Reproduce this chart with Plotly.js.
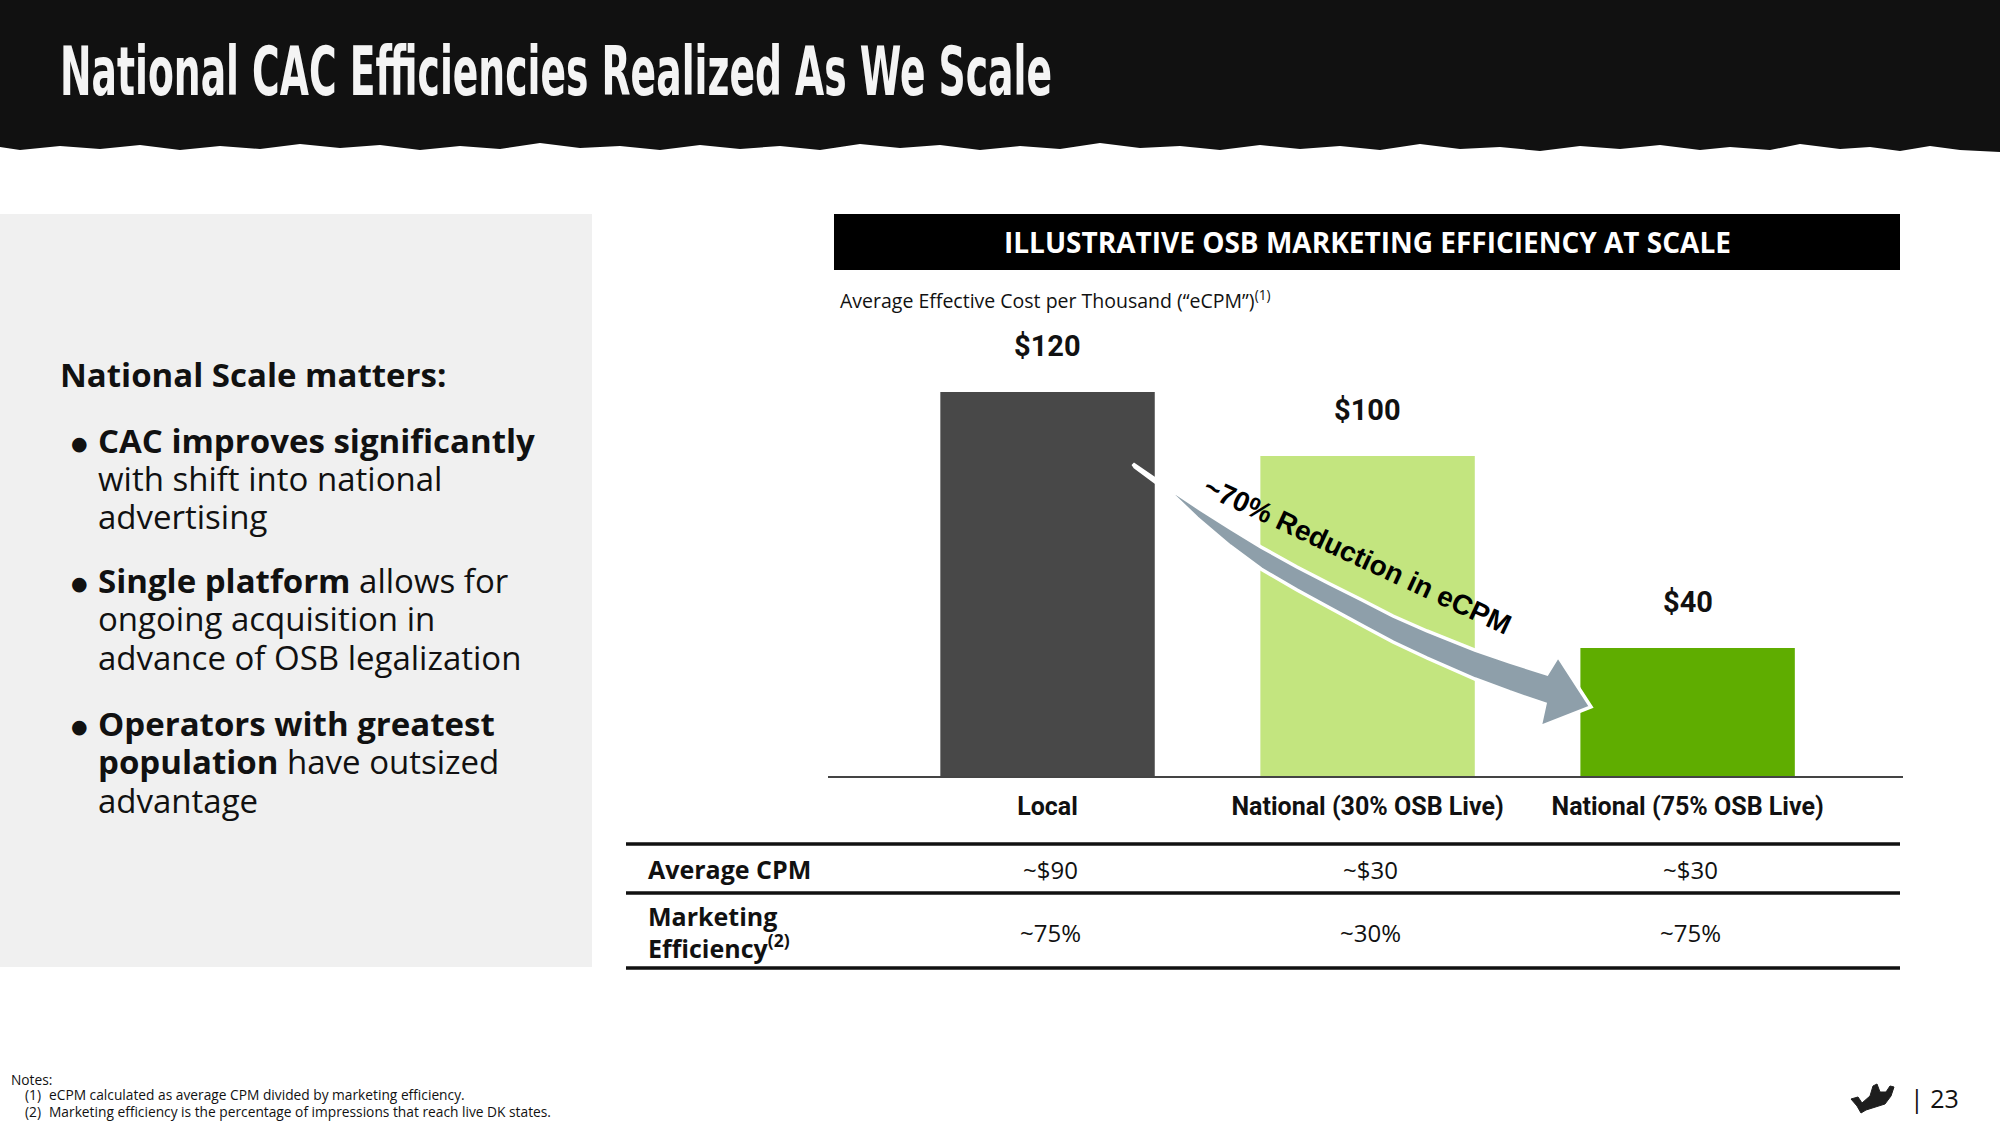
<!DOCTYPE html>
<html>
<head>
<meta charset="utf-8">
<script src="https://cdn.plot.ly/plotly-3.0.1.min.js"></script>
<style>
  html, body { margin: 0; padding: 0; background: #ffffff; }
  #chart { width: 2000px; height: 1125px; }
</style>
</head>
<body>
<div id="chart"></div>
<script>
// ---------------- DATA ----------------
const categories = ['Local', 'National (30% OSB Live)', 'National (75% OSB Live)'];
const ecpm = [120, 100, 40];
const ecpmLabels = ['$120', '$100', '$40'];
const avgCPM = ['~$90', '~$30', '~$30'];
const efficiency = ['~75%', '~30%', '~75%'];
const tableRowLabels = ['<b>Average CPM</b>', '<b>Marketing</b>', '<b>Efficiency<sup>(2)</sup></b>'];
const pageTitle = 'National CAC Efficiencies Realized As We Scale';
const chartHeading = 'ILLUSTRATIVE OSB MARKETING EFFICIENCY AT SCALE';
const chartSubtitle = 'Average Effective Cost per Thousand (\u201CeCPM\u201D)<sup>(1)</sup>';
const arrowText = '~70% Reduction in eCPM';
const sideHeading = '<b>National Scale matters:</b>';
const sideLines = [
  '<b>CAC improves significantly</b>',
  'with shift into national',
  'advertising',
  '<b>Single platform</b> allows for',
  'ongoing acquisition in',
  'advance of OSB legalization',
  '<b>Operators with greatest</b>',
  '<b>population</b> have outsized',
  'advantage'
];
const bulletLineIdx = [0, 3, 6];
const notes = ['Notes:', '(1)', 'eCPM calculated as average CPM divided by marketing efficiency.',
               '(2)', 'Marketing efficiency is the percentage of impressions that reach live DK states.'];
const pageNumber = '| 23';

// ---------------- STYLE ----------------
const barColors = ['#484848', '#c3e57f', '#5fad00'];
const W = 2000, H = 1125;
const px = x => x / W;
const py = y => 1 - y / H;
const OPEN = 'Open Sans, Noto Sans, sans-serif';

function pathFrom(pts, close) {
  return pts.map((p, i) => (i === 0 ? 'M' : 'L') + px(p[0]).toFixed(5) + ',' + py(p[1]).toFixed(5)).join(' ') + (close ? ' Z' : '');
}

// header torn edge
const tornEdge = [[2000,152],[1960,150],[1930,146],[1900,151],[1870,147],[1840,149],[1800,144],[1770,150],[1730,147],[1700,150],[1660,145],[1620,149],[1580,146],[1540,151],[1500,147],[1460,149],[1420,144],[1380,150],[1340,146],[1300,149],[1260,145],[1220,150],[1180,146],[1140,148],[1100,143],[1060,149],[1020,146],[980,150],[940,145],[900,148],[860,144],[820,150],[780,146],[740,149],[700,145],[660,150],[620,146],[580,148],[540,143],[500,149],[460,146],[420,150],[380,145],[340,148],[300,144],[260,149],[220,146],[180,150],[140,145],[100,149],[60,146],[20,150],[0,147]];
const headerPts = [[0,0],[2000,0]].concat(tornEdge);

// curved arrow (decoration)
const arrowPts = [[1133,464],[1152,477],[1170,489],[1200,509],[1230,528],[1261,547],[1297,567],[1330,584],[1362,600],[1393,616],[1427,631],[1475,650],[1510,662],[1547,674],
  [1558,656],[1591,707],[1540,727],[1545,704],
  [1510,692],[1475,679],[1427,658],[1393,642],[1365,627],[1330,608],[1297,590],[1261,569],[1230,546],[1197,518],[1172,494],[1154,481],[1135,467]];

// crown logo
const crownPts = [[1851,1099],[1858,1097],[1862,1103],[1870,1096],[1873,1086],[1877,1084],[1880,1092],[1886,1092],[1890,1086],[1894,1087],[1891,1096],[1885,1104],[1866,1110],[1861,1113],[1857,1106]];

const shapes = [
  {type:'rect', xref:'paper', yref:'paper', x0:0, x1:px(592), y0:py(967), y1:py(214), fillcolor:'#f0f0f0', line:{width:0}, layer:'below'},
  {type:'path', xref:'paper', yref:'paper', path:pathFrom(headerPts, true), fillcolor:'#111111', line:{width:0}, layer:'above'},
  {type:'rect', xref:'paper', yref:'paper', x0:px(834), x1:px(1900), y0:py(270), y1:py(214), fillcolor:'#000000', line:{width:0}, layer:'above'},
  {type:'line', xref:'paper', yref:'paper', x0:px(626), x1:px(1900), y0:py(844), y1:py(844), line:{color:'#111111', width:3.5}},
  {type:'line', xref:'paper', yref:'paper', x0:px(626), x1:px(1900), y0:py(893), y1:py(893), line:{color:'#111111', width:3.5}},
  {type:'line', xref:'paper', yref:'paper', x0:px(626), x1:px(1900), y0:py(968), y1:py(968), line:{color:'#111111', width:3.5}},
  {type:'path', xref:'paper', yref:'paper', path:pathFrom(arrowPts, true), fillcolor:'#8e9faa', line:{color:'#ffffff', width:3.5}, layer:'above'},
  {type:'path', xref:'paper', yref:'paper', path:pathFrom(crownPts, true), fillcolor:'#1e1e1e', line:{color:'#1e1e1e', width:1}, layer:'above'}
];

const annotations = [];
// page title (index 0)
annotations.push({xref:'paper', yref:'paper', x:px(58), y:py(72), xanchor:'left', yanchor:'middle', align:'left',
  text:pageTitle, showarrow:false, font:{family:'Liberation Sans Narrow, DejaVu Sans Condensed, sans-serif', size:67, weight:700, color:'#f4f4f4'}});
// chart heading
annotations.push({xref:'paper', yref:'paper', x:px(1367), y:py(242), xanchor:'center', yanchor:'middle',
  text:'<b>' + chartHeading + '</b>', showarrow:false, font:{family:OPEN, size:28, color:'#ffffff'}});
// subtitle
annotations.push({xref:'paper', yref:'paper', x:px(838), y:py(300), xanchor:'left', yanchor:'middle',
  text:chartSubtitle, showarrow:false, font:{family:OPEN, size:19.5, color:'#111111'}});
// value labels
ecpm.forEach((v, i) => {
  annotations.push({xref:'x', yref:'y', x:categories[i], y:v, xanchor:'center', yanchor:'middle', yshift:46,
    text:'<b>' + ecpmLabels[i] + '</b>', showarrow:false, font:{family:'Roboto, sans-serif', size:29, color:'#111111'}});
});
// arrow text
annotations.push({xref:'paper', yref:'paper', x:px(1357), y:py(555), xanchor:'center', yanchor:'middle', textangle:25,
  text:'<b>' + arrowText + '</b>', showarrow:false, font:{family:'Liberation Sans, Arial, sans-serif', size:28, color:'#000000'}});
// table row labels
annotations.push({xref:'paper', yref:'paper', x:px(646), y:py(869), xanchor:'left', yanchor:'middle', text:tableRowLabels[0], showarrow:false, font:{family:OPEN, size:25, color:'#111111'}});
annotations.push({xref:'paper', yref:'paper', x:px(646), y:py(916), xanchor:'left', yanchor:'middle', text:tableRowLabels[1], showarrow:false, font:{family:OPEN, size:25, color:'#111111'}});
annotations.push({xref:'paper', yref:'paper', x:px(646), y:py(946), xanchor:'left', yanchor:'middle', text:tableRowLabels[2], showarrow:false, font:{family:OPEN, size:25, color:'#111111'}});
// table values
avgCPM.forEach((t, i) => {
  annotations.push({xref:'x', yref:'paper', x:categories[i], y:py(869), xanchor:'center', yanchor:'middle', xshift:3, text:t, showarrow:false, font:{family:OPEN, size:24, color:'#111111'}});
});
efficiency.forEach((t, i) => {
  annotations.push({xref:'x', yref:'paper', x:categories[i], y:py(932), xanchor:'center', yanchor:'middle', xshift:3, text:t, showarrow:false, font:{family:OPEN, size:24, color:'#111111'}});
});
// side panel
annotations.push({xref:'paper', yref:'paper', x:px(58), y:py(374), xanchor:'left', yanchor:'middle', text:sideHeading, showarrow:false, font:{family:OPEN, size:33, color:'#111111'}});
const sideY = [440, 478, 517, 580, 619, 657, 723, 761, 800];
sideLines.forEach((t, i) => {
  annotations.push({xref:'paper', yref:'paper', x:px(96), y:py(sideY[i]), xanchor:'left', yanchor:'middle', text:t, showarrow:false, font:{family:OPEN, size:33, color:'#111111'}});
});
bulletLineIdx.forEach(i => {
  annotations.push({xref:'paper', yref:'paper', x:px(79), y:py(sideY[i] + 3), xanchor:'center', yanchor:'middle', text:'\u25CF', showarrow:false, font:{family:'DejaVu Sans, sans-serif', size:19, color:'#111111'}});
});
// notes
annotations.push({xref:'paper', yref:'paper', x:px(9), y:py(1079), xanchor:'left', yanchor:'middle', text:notes[0], showarrow:false, font:{family:OPEN, size:13.75, color:'#111111'}});
annotations.push({xref:'paper', yref:'paper', x:px(23), y:py(1094), xanchor:'left', yanchor:'middle', text:notes[1], showarrow:false, font:{family:OPEN, size:13.75, color:'#111111'}});
annotations.push({xref:'paper', yref:'paper', x:px(47), y:py(1094), xanchor:'left', yanchor:'middle', text:notes[2], showarrow:false, font:{family:OPEN, size:13.75, color:'#111111'}});
annotations.push({xref:'paper', yref:'paper', x:px(23), y:py(1111), xanchor:'left', yanchor:'middle', text:notes[3], showarrow:false, font:{family:OPEN, size:13.75, color:'#111111'}});
annotations.push({xref:'paper', yref:'paper', x:px(47), y:py(1111), xanchor:'left', yanchor:'middle', text:notes[4], showarrow:false, font:{family:OPEN, size:13.75, color:'#111111'}});
// page number
annotations.push({xref:'paper', yref:'paper', x:px(1908), y:py(1098), xanchor:'left', yanchor:'middle', text:pageNumber, showarrow:false, font:{family:OPEN, size:25, color:'#111111'}});

const trace = {
  type:'bar', x:categories, y:ecpm,
  marker:{color:barColors, line:{width:0}},
  hoverinfo:'skip', showlegend:false
};

const layout = {
  width:W, height:H,
  margin:{l:0, r:0, t:0, b:0, pad:0},
  paper_bgcolor:'#ffffff', plot_bgcolor:'rgba(0,0,0,0)',
  bargap:0.33,
  xaxis:{domain:[0.414, 0.9515], range:[-0.686, 2.673], type:'category',
    showline:true, linecolor:'#444444', linewidth:2, ticks:'', showgrid:false, zeroline:false,
    ticklabelstandoff:7,
    tickfont:{family:'Roboto, sans-serif', size:25, color:'#111111', weight:700}, fixedrange:true},
  yaxis:{domain:[0.31022, 0.68], range:[0, 130], visible:false, showgrid:false, zeroline:false, fixedrange:true},
  shapes:shapes,
  annotations:annotations,
  showlegend:false
};

Plotly.newPlot('chart', [trace], layout, {staticPlot:true, displayModeBar:false}).then(() => {
  const t = document.querySelector('.annotation[data-index="0"] .annotation-text');
  if (t) {
    t.setAttribute('textLength', '992');
    t.setAttribute('lengthAdjust', 'spacingAndGlyphs');
  }
});
</script>
</body>
</html>
